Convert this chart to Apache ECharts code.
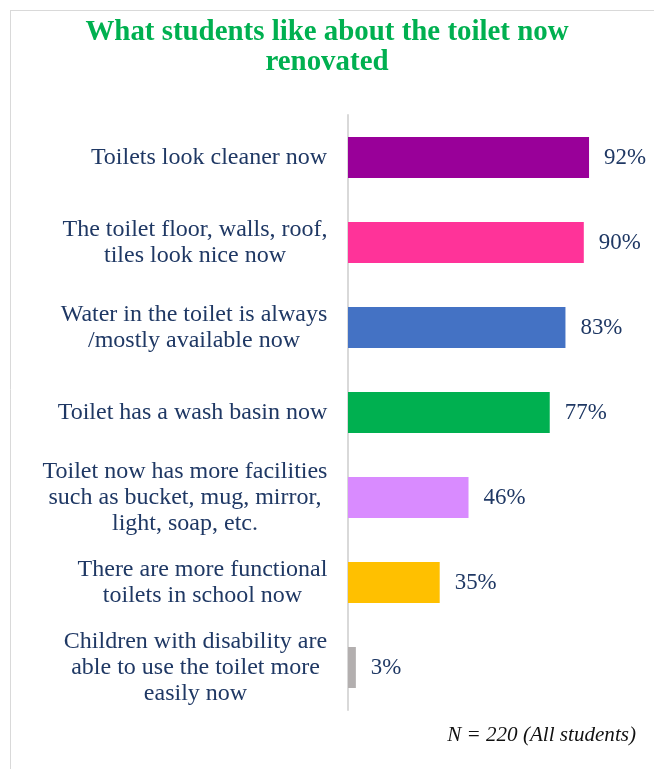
<!DOCTYPE html>
<html>
<head>
<meta charset="utf-8">
<script src="https://cdn.jsdelivr.net/npm/echarts@6/dist/echarts.min.js"></script>
<style>html,body{margin:0;padding:0;background:#fff;}#c{width:654px;height:769px;}</style>
</head>
<body>
<div id="c"></div>
<script>
var categories = [
  "Toilets look cleaner now",
  "The toilet floor, walls, roof,\ntiles look nice now",
  "Water in the toilet is always\n/mostly available now",
  "Toilet has a wash basin now",
  "Toilet now has more facilities\nsuch as bucket, mug, mirror,\nlight, soap, etc.",
  "There are more functional\ntoilets in school now",
  "Children with disability are\nable to use the toilet more\neasily now"
];
var values = [92, 90, 83, 77, 46, 35, 3];
var barColors = ["#990099", "#FF3399", "#4472C4", "#00B050", "#D98BFF", "#FFC000", "#B3AFAF"];
var titleText = "What students like about the toilet now\nrenovated";
var noteText = "N = 220 (All students)";

var FONT = "Liberation Serif";
var canvas = document.createElement('canvas');
var ctx = canvas.getContext('2d');
function fit(text, target, style) {
  ctx.font = (style || '') + ' 100px "' + FONT + '"';
  return Math.round(100 * target / ctx.measureText(text).width * 10) / 10;
}
var LBL_SIZE = fit("Toilets look cleaner now", 236, '');
var VAL_SIZE = fit("92%", 42, '');
var TITLE_SIZE = fit("What students like about the toilet now", 484, 'bold');
var NOTE_SIZE = fit(noteText, 189, 'italic');

ctx.font = LBL_SIZE + 'px "' + FONT + '"';
var rich = {};
categories.forEach(function (c, i) {
  var w = 0;
  c.split('\n').forEach(function (l) { w = Math.max(w, ctx.measureText(l).width); });
  rich['l' + i] = { width: Math.ceil(w) + 1, align: 'center', fontFamily: FONT, fontSize: LBL_SIZE, color: '#1F3864', lineHeight: 26 };
});

var chart = echarts.init(document.getElementById('c'));
chart.setOption({
  backgroundColor: '#fff',
  animation: false,
  title: [{
    text: titleText,
    left: 'center',
    top: 13,
    textStyle: { fontFamily: FONT, fontWeight: 'bold', fontSize: TITLE_SIZE, color: '#00B050', lineHeight: 30 }
  }, {
    text: noteText,
    right: 13,
    top: 718,
    textStyle: { fontFamily: FONT, fontStyle: 'italic', fontWeight: 'normal', fontSize: NOTE_SIZE, color: '#111', lineHeight: 24 }
  }],
  graphic: [
    { type: 'line', shape: { x1: 10, y1: 10.5, x2: 654, y2: 10.5 }, style: { stroke: '#D9D9D9', lineWidth: 1 } },
    { type: 'line', shape: { x1: 10.5, y1: 10, x2: 10.5, y2: 769 }, style: { stroke: '#D9D9D9', lineWidth: 1 } }
  ],
  grid: { left: 348, right: 44, top: 115, bottom: 59, containLabel: false },
  xAxis: { type: 'value', min: 0, max: 100, show: false },
  yAxis: {
    type: 'category',
    data: categories,
    inverse: true,
    axisLine: { show: true, lineStyle: { color: '#D9D9D9', width: 2 } },
    axisTick: { show: false },
    splitLine: { show: false },
    axisLabel: {
      margin: 20,
      formatter: function (v, i) {
        return v.split('\n').map(function (l) { return '{l' + i + '|' + l + '}'; }).join('\n');
      },
      rich: rich
    }
  },
  series: [{
    type: 'bar',
    data: values.map(function (v, i) { return { value: v, itemStyle: { color: barColors[i] } }; }),
    barWidth: 41,
    label: {
      show: true,
      position: 'right',
      distance: 15,
      formatter: '{c}%',
      fontFamily: FONT,
      fontSize: VAL_SIZE,
      color: '#1F3864'
    }
  }]
});
</script>
</body>
</html>
